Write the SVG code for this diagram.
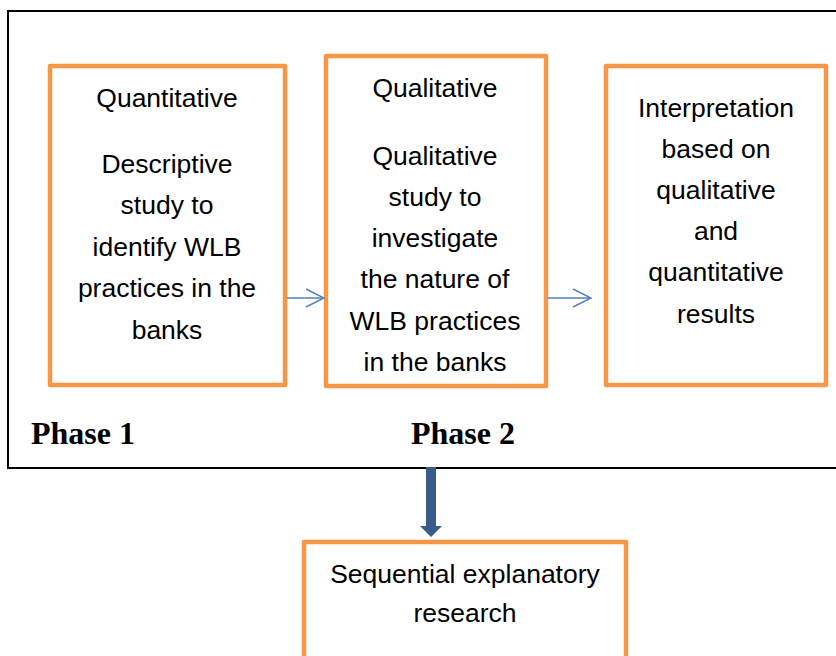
<svg xmlns="http://www.w3.org/2000/svg" width="836" height="656" viewBox="0 0 836 656">
<style>
.box{fill:#fff;stroke:#F79646;stroke-width:4.5;stroke-linejoin:round}
.t{font-family:"Liberation Sans",Arial,sans-serif;font-size:26.5px;fill:#000;text-anchor:middle}
.ph{font-family:"Liberation Serif","Times New Roman",serif;font-size:32px;font-weight:bold;fill:#000}
.conn{stroke:#4F81BD;stroke-width:1.5;fill:none}
</style>
<defs>
<marker id="open" viewBox="0 0 20 20" refX="19" refY="10" markerWidth="20" markerHeight="20" markerUnits="userSpaceOnUse" orient="auto">
<path d="M1,1 L19,10 L1,19" fill="none" stroke="#4F81BD" stroke-width="1.5"/>
</marker>
</defs>
<rect x="0" y="0" width="836" height="656" fill="#fff"/>
<g id="frame">
<path d="M840,11 L8,11 L8,468 L840,468" fill="none" stroke="#000" stroke-width="2"/>
<text class="ph" x="31" y="444">Phase 1</text>
<text class="ph" x="411" y="444">Phase 2</text>
</g>
<g id="phase1">
<rect class="box" x="50" y="66" width="235" height="319"/>
<text class="t" x="167" y="107">Quantitative</text>
<text class="t" x="167" y="173">Descriptive</text>
<text class="t" x="167" y="214">study to</text>
<text class="t" x="167" y="256">identify WLB</text>
<text class="t" x="167" y="297">practices in the</text>
<text class="t" x="167" y="339">banks</text>
</g>
<g id="phase2">
<rect class="box" x="326" y="56" width="220" height="330"/>
<text class="t" x="435" y="97">Qualitative</text>
<text class="t" x="435" y="165">Qualitative</text>
<text class="t" x="435" y="206">study to</text>
<text class="t" x="435" y="247">investigate</text>
<text class="t" x="435" y="288">the nature of</text>
<text class="t" x="435" y="330">WLB practices</text>
<text class="t" x="435" y="371">in the banks</text>
</g>
<g id="interpretation">
<rect class="box" x="606" y="66" width="220" height="319"/>
<text class="t" x="716" y="117">Interpretation</text>
<text class="t" x="716" y="158">based on</text>
<text class="t" x="716" y="199">qualitative</text>
<text class="t" x="716" y="240">and</text>
<text class="t" x="716" y="281">quantitative</text>
<text class="t" x="716" y="323">results</text>
</g>
<g id="sequential">
<rect class="box" x="304" y="542" width="322" height="130"/>
<text class="t" x="465" y="583">Sequential explanatory</text>
<text class="t" x="465" y="622">research</text>
</g>
<g id="connectors">
<line class="conn" x1="287" y1="298" x2="324" y2="298" marker-end="url(#open)"/>
<line class="conn" x1="548" y1="298" x2="591" y2="298" marker-end="url(#open)"/>
<path d="M426,467 L436,467 L436,526 L442,526 L431,537 L420,526 L426,526 Z" fill="#385D8A"/>
</g>
</svg>
